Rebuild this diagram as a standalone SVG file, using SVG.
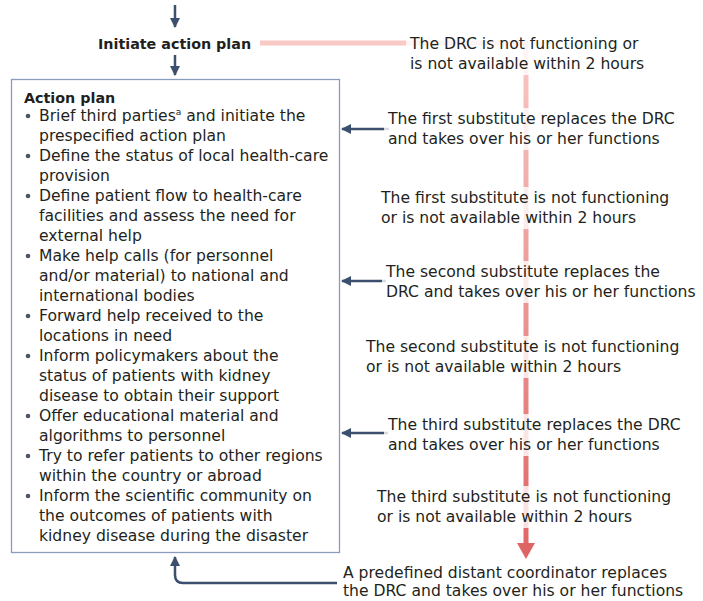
<svg xmlns="http://www.w3.org/2000/svg" width="703" height="601" viewBox="0 0 703 601">
<defs>
<style>
.t{font-family:"DejaVu Sans","Liberation Sans",sans-serif;font-size:15.6px;fill:#231f20}
.b{font-weight:bold;font-size:14.3px}
.blue{fill:none;stroke:#3d4f6e;stroke-width:2.5}
.dot{fill:#4a5568}
.halo{fill:#fff;opacity:0.8}
</style>
<linearGradient id="rg" x1="0" y1="43" x2="0" y2="560" gradientUnits="userSpaceOnUse">
<stop offset="0" stop-color="#f8c9c5"/>
<stop offset="1" stop-color="#df6464"/>
</linearGradient>
<marker id="ah" viewBox="0 0 10 10" refX="9" refY="5" markerWidth="4" markerHeight="4" orient="auto" markerUnits="strokeWidth">
<path d="M0,0 L10,5 L0,10 z" fill="#3d4f6e"/>
</marker>
</defs>

<g id="connectors">
<path d="M175,5 V27" class="blue" marker-end="url(#ah)"/>
<path d="M175,55 V75" class="blue" marker-end="url(#ah)"/>
<path d="M260,43 H526 V545" fill="none" stroke="url(#rg)" stroke-width="5"/>
<path d="M517,543 L535,543 L526,559 z" fill="#df6464"/>
<path d="M389,129 H342" class="blue" marker-end="url(#ah)"/>
<path d="M386,281 H342" class="blue" marker-end="url(#ah)"/>
<path d="M388,433 H342" class="blue" marker-end="url(#ah)"/>
<path d="M337,583 H183 Q175,583 175,575 V557" class="blue" marker-end="url(#ah)"/>
</g>

<g id="initiate">
<text class="t b" x="98" y="49">Initiate action plan</text>
</g>

<g id="action-plan">
<rect x="11.5" y="79.5" width="328" height="473" fill="none" stroke="#8b9bbb" stroke-width="1.3"/>
<text class="t b" x="24" y="103">Action plan</text>
<g class="dot">
<circle cx="28" cy="116" r="2.3"/>
<circle cx="28" cy="156" r="2.3"/>
<circle cx="28" cy="196" r="2.3"/>
<circle cx="28" cy="256" r="2.3"/>
<circle cx="28" cy="316" r="2.3"/>
<circle cx="28" cy="356" r="2.3"/>
<circle cx="28" cy="416" r="2.3"/>
<circle cx="28" cy="456" r="2.3"/>
<circle cx="28" cy="496" r="2.3"/>
</g>
<text class="t" x="39">
<tspan x="39" y="121">Brief third parties<tspan font-size="9" dy="-6">a</tspan><tspan dy="6"> and initiate the</tspan></tspan>
<tspan x="39" y="141">prespecified action plan</tspan>
<tspan x="39" y="161">Define the status of local health-care</tspan>
<tspan x="39" y="181">provision</tspan>
<tspan x="39" y="201">Define patient flow to health-care</tspan>
<tspan x="39" y="221">facilities and assess the need for</tspan>
<tspan x="39" y="241">external help</tspan>
<tspan x="39" y="261">Make help calls (for personnel</tspan>
<tspan x="39" y="281">and/or material) to national and</tspan>
<tspan x="39" y="301">international bodies</tspan>
<tspan x="39" y="321">Forward help received to the</tspan>
<tspan x="39" y="341">locations in need</tspan>
<tspan x="39" y="361">Inform policymakers about the</tspan>
<tspan x="39" y="381">status of patients with kidney</tspan>
<tspan x="39" y="401">disease to obtain their support</tspan>
<tspan x="39" y="421">Offer educational material and</tspan>
<tspan x="39" y="441">algorithms to personnel</tspan>
<tspan x="39" y="461">Try to refer patients to other regions</tspan>
<tspan x="39" y="481">within the country or abroad</tspan>
<tspan x="39" y="501">Inform the scientific community on</tspan>
<tspan x="39" y="521">the outcomes of patients with</tspan>
<tspan x="39" y="541">kidney disease during the disaster</tspan>
</text>
</g>

<g id="drc-fail">
<rect class="halo" x="406" y="33" width="240" height="42"/>
<text class="t" x="410" y="49">The DRC is not functioning or</text>
<text class="t" x="410" y="69">is not available within 2 hours</text>
</g>
<g id="sub1">
<rect class="halo" x="384" y="108" width="298" height="42"/>
<text class="t" x="388" y="124">The first substitute replaces the DRC</text>
<text class="t" x="388" y="144">and takes over his or her functions</text>
</g>
<g id="sub1-fail">
<rect class="halo" x="377" y="187" width="298" height="42"/>
<text class="t" x="381" y="203">The first substitute is not functioning</text>
<text class="t" x="381" y="223">or is not available within 2 hours</text>
</g>
<g id="sub2">
<rect class="halo" x="382" y="261" width="312" height="42"/>
<text class="t" x="386" y="277">The second substitute replaces the</text>
<text class="t" x="386" y="297">DRC and takes over his or her functions</text>
</g>
<g id="sub2-fail">
<rect class="halo" x="362" y="336" width="328" height="42"/>
<text class="t" x="366" y="352">The second substitute is not functioning</text>
<text class="t" x="366" y="372">or is not available within 2 hours</text>
</g>
<g id="sub3">
<rect class="halo" x="384" y="414" width="302" height="42"/>
<text class="t" x="388" y="430">The third substitute replaces the DRC</text>
<text class="t" x="388" y="450">and takes over his or her functions</text>
</g>
<g id="sub3-fail">
<rect class="halo" x="373" y="486" width="306" height="42"/>
<text class="t" x="377" y="502">The third substitute is not functioning</text>
<text class="t" x="377" y="522">or is not available within 2 hours</text>
</g>
<g id="distant">
<text class="t" x="343" y="578">A predefined distant coordinator replaces</text>
<text class="t" x="343" y="596">the DRC and takes over his or her functions</text>
</g>
</svg>
